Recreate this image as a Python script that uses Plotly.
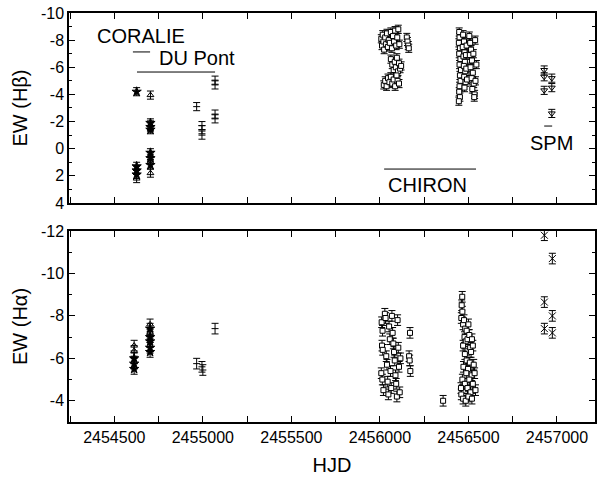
import plotly.graph_objects as go

# ---------------- H-beta equivalent widths (upper panel) ----------------
coralie_hb_x = [2454626, 2454626, 2454626, 2454626,
                2454704, 2454704, 2454704, 2454704, 2454704, 2454704]
coralie_hb_y = [-4.2, 1.3, 1.6, 1.9,
                -1.9, -1.6, -1.4, 0.3, 0.7, 1.2]

dupont_tri_hb_x = [2454626, 2454704, 2454704, 2454704, 2454704]
dupont_tri_hb_y = [2.2, -3.95, -1.75, 0.5, 1.8]

dupont_bar_hb_x = [2454965, 2454995, 2454995, 2454995, 2455069, 2455069, 2455069, 2455069]
dupont_bar_hb_y = [-3.1, -1.7, -1.4, -1.0, -5.05, -4.7, -2.55, -2.2]

chiron_hb_x = [
    2456008, 2456012, 2456016, 2456020, 2456024, 2456030, 2456034, 2456040, 2456045, 2456050,
    2456056, 2456062, 2456068, 2456074, 2456080, 2456086, 2456092, 2456098, 2456104, 2456110,
    2456062, 2456070, 2456078, 2456084, 2456090, 2456096, 2456102, 2456108, 2456114, 2456120,
    2456022, 2456030, 2456038, 2456046, 2456054, 2456062, 2456070, 2456078, 2456086, 2456094,
    2456100, 2456108,
    2456152, 2456156, 2456160, 2456163,
    2456448, 2456450, 2456446, 2456452, 2456448, 2456455, 2456450, 2456458, 2456452, 2456456,
    2456450, 2456448, 2456452, 2456446,
    2456470, 2456475, 2456468, 2456478, 2456472, 2456480, 2456474, 2456482, 2456476, 2456484,
    2456478, 2456486, 2456490, 2456488, 2456492,
    2456505, 2456510, 2456515, 2456508, 2456520, 2456512, 2456525, 2456518, 2456530, 2456522,
    2456535, 2456540, 2456545, 2456528, 2456538, 2456533,
]
chiron_hb_y = [
    -8.1, -7.6, -8.4, -7.9, -7.3, -8.2, -7.7, -8.5, -7.5, -8.0,
    -7.8, -8.6, -7.4, -8.3, -7.9, -8.7, -7.6, -8.2, -8.8, -7.7,
    -6.6, -6.2, -5.8, -6.4, -6.0, -6.7, -5.7, -6.3, -5.9, -6.1,
    -4.7, -5.0, -4.6, -5.2, -4.9, -5.3, -4.8, -5.1, -4.6, -5.4,
    -5.0, -4.8,
    -8.2, -7.9, -7.6, -7.4,
    -8.6, -8.2, -7.8, -7.4, -7.0, -6.6, -6.2, -5.8, -5.4, -5.0,
    -4.6, -4.2, -3.8, -3.5,
    -8.4, -7.9, -7.5, -7.1, -6.8, -6.4, -6.1, -5.7, -5.3, -4.9,
    -4.5, -6.9, -7.6, -5.9, -5.1,
    -8.3, -7.8, -7.3, -6.9, -6.5, -6.0, -5.6, -5.2, -4.8, -4.4,
    -4.0, -5.0, -6.2, -7.0, -8.0, -3.8,
]

spm_hb_x = [2456928, 2456928, 2456928, 2456971, 2456971, 2456971]
spm_hb_y = [-5.8, -5.3, -4.3, -5.2, -4.5, -2.6]

# ---------------- H-alpha equivalent widths (lower panel) ----------------
coralie_ha_x = [2454612, 2454612, 2454612, 2454702, 2454702, 2454702, 2454702, 2454702]
coralie_ha_y = [-6.0, -5.75, -5.5, -7.4, -7.0, -6.8, -6.5, -6.3]

dupont_tri_ha_x = [2454612, 2454612, 2454702, 2454702, 2454702]
dupont_tri_ha_y = [-6.6, -6.35, -7.6, -7.2, -6.6]

dupont_bar_ha_x = [2454965, 2454995, 2455000, 2455069]
dupont_bar_ha_y = [-5.75, -5.6, -5.45, -7.4]

chiron_ha_x = [
    2456010, 2456015, 2456012, 2456016, 2456008, 2456014, 2456020, 2456028, 2456032, 2456036,
    2456040, 2456044, 2456048, 2456052, 2456056, 2456060, 2456064, 2456068, 2456072, 2456076,
    2456080, 2456084, 2456088, 2456092, 2456096, 2456100, 2456104, 2456108, 2456112, 2456116,
    2456170, 2456165, 2456168, 2456172,
    2456357,
    2456465, 2456462, 2456466, 2456460, 2456470, 2456475, 2456482, 2456478, 2456490, 2456485,
    2456470, 2456495, 2456500, 2456505, 2456510, 2456480, 2456490, 2456515, 2456520, 2456525,
    2456472, 2456498, 2456508, 2456518, 2456530, 2456466, 2456480, 2456495, 2456505, 2456512,
    2456525, 2456535, 2456460, 2456470, 2456485, 2456500, 2456520, 2456540, 2456488, 2456458,
]
chiron_ha_y = [
    -7.7, -7.3, -6.6, -6.4, -5.3, -5.0, -4.5, -8.1, -7.9, -6.1,
    -5.7, -4.9, -4.3, -7.5, -6.9, -5.4, -4.6, -8.0, -7.2, -6.7,
    -6.3, -5.9, -5.2, -4.8, -4.2, -7.8, -6.5, -5.6, -4.4, -6.0,
    -7.2, -6.1, -5.9, -5.4,
    -4.0,
    -8.9, -8.5, -8.2, -7.9, -7.6, -7.8, -7.4, -7.0, -7.3, -6.8,
    -6.6, -6.9, -7.6, -7.1, -6.5, -6.2, -5.9, -6.3, -6.9, -6.6,
    -5.6, -5.5, -5.8, -5.2, -5.7, -5.0, -4.8, -4.6, -5.0, -4.4,
    -4.8, -5.3, -4.3, -4.1, -4.0, -4.2, -4.1, -4.5, -5.3, -4.6,
]

spm_ha_x = [2456929, 2456929, 2456929, 2456974, 2456974, 2456974]
spm_ha_y = [-11.8, -8.65, -7.4, -10.7, -8.0, -7.2]

# axis ticks
x_ticks = [2454250, 2454500, 2454750, 2455000, 2455250, 2455500, 2455750,
           2456000, 2456250, 2456500, 2456750, 2457000]
x_labels = ["", "2454500", "", "2455000", "", "2455500", "",
            "2456000", "", "2456500", "", "2457000"]
hb_ticks = [-10, -8, -6, -4, -2, 0, 2, 4]
ha_ticks = [-12, -10, -8, -6, -4]

HB_ERR = 0.3
HA_ERR = 0.25

FONT = "Arial, Liberation Sans, sans-serif"
fig = go.Figure()


def add_series(xs, ys, xa, ya, err, symbol, size, fill="rgba(0,0,0,0)"):
    fig.add_trace(go.Scatter(
        x=xs, y=ys, xaxis=xa, yaxis=ya, mode="markers",
        marker=dict(symbol=symbol, size=size, color=fill,
                    line=dict(color="black", width=1)),
        error_y=dict(type="constant", value=err, thickness=1, width=3.5, color="black"),
        showlegend=False,
    ))


# upper panel: H-beta
add_series(coralie_hb_x, coralie_hb_y, "x2", "y2", HB_ERR, "star", 7, "black")
add_series(dupont_tri_hb_x, dupont_tri_hb_y, "x2", "y2", HB_ERR, "triangle-up", 6)
add_series(dupont_bar_hb_x, dupont_bar_hb_y, "x2", "y2", HB_ERR, "line-ew", 5)
add_series(chiron_hb_x, chiron_hb_y, "x2", "y2", HB_ERR, "square", 5, "white")
add_series(spm_hb_x, spm_hb_y, "x2", "y2", HB_ERR, "triangle-down", 6)

# lower panel: H-alpha
add_series(coralie_ha_x, coralie_ha_y, "x", "y", HA_ERR, "star", 7, "black")
add_series(dupont_tri_ha_x, dupont_tri_ha_y, "x", "y", HA_ERR, "triangle-up", 6)
add_series(dupont_bar_ha_x, dupont_bar_ha_y, "x", "y", HA_ERR, "line-ew", 5)
add_series(chiron_ha_x, chiron_ha_y, "x", "y", HA_ERR, "square", 5, "white")
add_series(spm_ha_x, spm_ha_y, "x", "y", HA_ERR, "x-thin", 7)

X_RANGE = [2454244, 2457215]

common_x = dict(
    range=X_RANGE, tickmode="array", tickvals=x_ticks,
    ticks="inside", ticklen=6, tickwidth=1, tickcolor="black",
    showline=True, linecolor="black", linewidth=1.5, mirror="ticks",
    showgrid=False, zeroline=False,
    tickfont=dict(family=FONT, size=16, color="black"),
)
common_y = dict(
    ticks="inside", ticklen=6, tickwidth=1, tickcolor="black",
    showline=True, linecolor="black", linewidth=1.5, mirror="ticks",
    showgrid=False, zeroline=False,
    tickfont=dict(family=FONT, size=16, color="black"),
    minor=dict(ticks="inside", ticklen=3, tickcolor="black", tickmode="linear", dtick=1),
)

fig.update_layout(
    width=601, height=482,
    margin=dict(l=69, r=4, t=13, b=60),
    paper_bgcolor="white", plot_bgcolor="white",
    font=dict(family=FONT, color="black"),
    xaxis=dict(common_x, anchor="y", ticktext=x_labels,
               title=dict(text="HJD", font=dict(family=FONT, size=20), standoff=13)),
    yaxis=dict(common_y, domain=[0, 0.467], anchor="x", range=[-3, -12],
               tickmode="array", tickvals=ha_ticks, ticktext=[str(v) for v in ha_ticks],
               title=dict(text="EW (H\u03b1)", font=dict(family=FONT, size=20), standoff=8)),
    xaxis2=dict(common_x, anchor="y2", matches="x", showticklabels=False),
    yaxis2=dict(common_y, domain=[0.5355, 1], anchor="x2", range=[4, -10],
                tickmode="array", tickvals=hb_ticks, ticktext=[str(v) for v in hb_ticks],
                title=dict(text="EW (H\u03b2)", font=dict(family=FONT, size=20), standoff=8)),
)

# instrument labels with their time-coverage bars (upper panel)
labels = [
    ("CORALIE", 2454651, -8.3),
    ("DU Pont", 2454967, -6.68),
    ("CHIRON", 2456267, 2.67),
    ("SPM", 2456967, -0.42),
]
for text, lx, ly in labels:
    fig.add_annotation(x=lx, y=ly, xref="x2", yref="y2", text=text, showarrow=False,
                       font=dict(family=FONT, size=20, color="black"))

coverage = [
    (2454605, 2454702, -7.13),
    (2454628, 2455069, -5.65),
    (2456024, 2456543, 1.5),
    (2456928, 2456973, -1.67),
]
for x0, x1, yy in coverage:
    fig.add_shape(type="line", xref="x2", yref="y2", x0=x0, x1=x1, y0=yy, y1=yy,
                  line=dict(color="black", width=1))

fig.write_html("out.html")
